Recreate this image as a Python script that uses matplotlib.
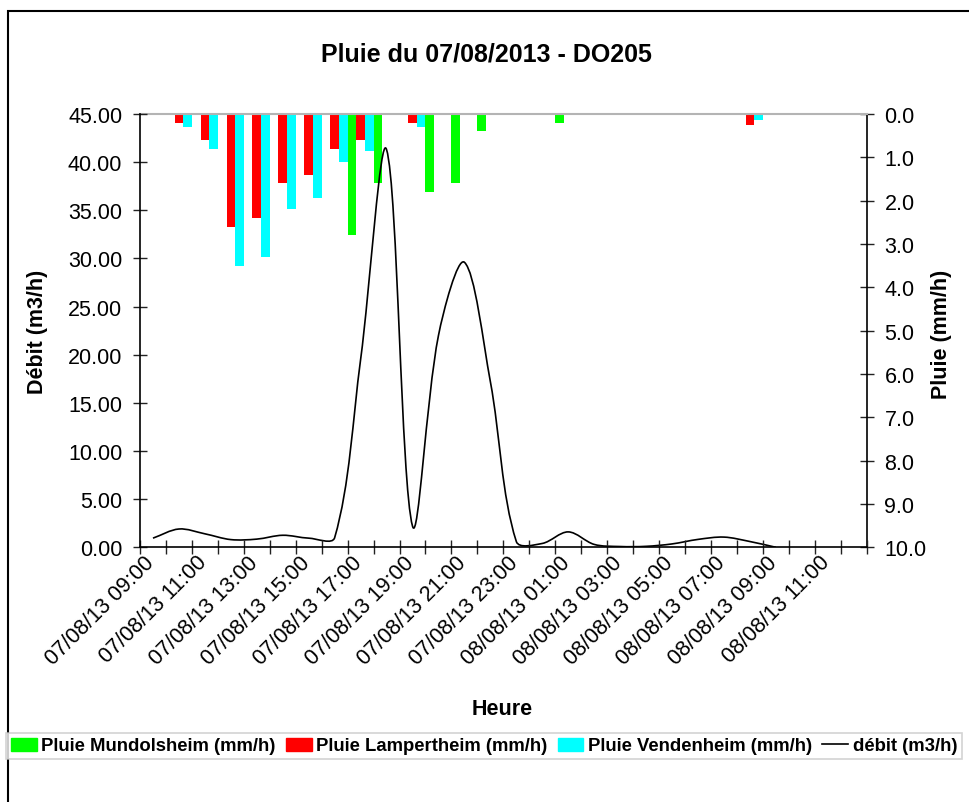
import numpy as np
import matplotlib
matplotlib.use("Agg")
import matplotlib.pyplot as plt
from matplotlib.path import Path
from matplotlib.patches import PathPatch, Rectangle, Patch
from matplotlib.lines import Line2D
from matplotlib.ticker import FormatStrFormatter

plt.rcParams['font.family'] = ['Liberation Sans', 'DejaVu Sans']

# hourly categories, 07/08/13 09:00 -> 08/08/13 12:00
hours = ["07/08/13 %02d:00" % h for h in range(9, 24)] + ["08/08/13 %02d:00" % h for h in range(0, 13)]

# rain (mm/h), one value per hour
pluie_mundolsheim = [0, 0, 0, 0, 0, 0, 0, 0, 2.8, 1.6, 0, 1.8, 1.6, 0.4, 0, 0, 0.2, 0, 0, 0, 0, 0, 0, 0, 0, 0, 0, 0]
pluie_lampertheim = [0, 0.2, 0.6, 2.6, 2.4, 1.6, 1.4, 0.8, 0.6, 0, 0.2, 0, 0, 0, 0, 0, 0, 0, 0, 0, 0, 0, 0, 0.25, 0, 0, 0, 0]
pluie_vendenheim = [0, 0.3, 0.8, 3.5, 3.3, 2.2, 1.95, 1.1, 0.85, 0, 0.3, 0, 0, 0, 0, 0, 0, 0, 0, 0, 0, 0, 0, 0.15, 0, 0, 0, 0]

# flow (m3/h), 09:00 -> 09:00 next day
debit = [0.95, 1.9, 1.4, 0.8, 0.85, 1.25, 0.95, 1.0, 19.5, 41.3, 2.2, 22.0, 29.6, 17.2, 0.6,
         0.4, 1.6, 0.3, 0.08, 0.1, 0.35, 0.82, 1.06, 0.6, 0.0]

W, H = 969, 803
fig = plt.figure(figsize=(W / 100, H / 100), dpi=100, facecolor="white")

x0, x1, y0, y1 = 140, 866.7, 115, 548.3
ax = fig.add_axes([x0 / W, 1 - y1 / H, (x1 - x0) / W, (y1 - y0) / H])
ax2 = ax.twinx()
ax.set_zorder(ax2.get_zorder() + 1)
ax.patch.set_visible(False)

n = len(hours)
idx = np.arange(n)
bw = 1 / 3
ax2.bar(idx - bw, pluie_mundolsheim, width=bw, color="#00ff00", label="Pluie Mundolsheim (mm/h)")
ax2.bar(idx, pluie_lampertheim, width=bw, color="#ff0000", label="Pluie Lampertheim (mm/h)")
ax2.bar(idx + bw, pluie_vendenheim, width=bw, color="#00ffff", label="Pluie Vendenheim (mm/h)")

ax.set_xlim(-0.5, n - 0.5)
ax.set_ylim(0, 45)
ax2.set_ylim(10, 0)

# smoothed line (bezier through points, computed in pixel space)
pts = ax.transData.transform(np.column_stack([np.arange(len(debit)), debit]))
verts = [pts[0]]
codes = [Path.MOVETO]
for i in range(len(pts) - 1):
    p0 = pts[i - 1] if i > 0 else pts[i]
    p1, p2 = pts[i], pts[i + 1]
    p3 = pts[i + 2] if i + 2 < len(pts) else pts[i + 1]
    d01 = np.hypot(*(p1 - p0))
    d12 = np.hypot(*(p2 - p1))
    d23 = np.hypot(*(p3 - p2))
    c1 = p1 + (p2 - p0) / 3 * d12 / (d01 + d12)
    c2 = p2 - (p3 - p1) / 3 * d12 / (d12 + d23)
    verts += [c1, c2, p2]
    codes += [Path.CURVE4] * 3
verts = ax.transData.inverted().transform(np.array(verts))
ax.add_patch(PathPatch(Path(verts, codes), fill=False, edgecolor="black", lw=1.2))

# axes styling
ax.set_yticks(np.arange(0, 46, 5))
ax.yaxis.set_major_formatter(FormatStrFormatter("%.2f"))
ax2.set_yticks(np.arange(0, 11, 1))
ax2.yaxis.set_major_formatter(FormatStrFormatter("%.1f"))

# labels every 2 hours, nudged a little left like the original; tick marks between categories
ax.set_xticks(idx[::2] - 0.35)
ax.set_xticklabels(hours[::2], rotation=45, ha="right", va="top", rotation_mode="anchor")
ax.set_xticks(np.arange(-0.5, n, 1), minor=True)
ax.tick_params(axis="x", which="major", length=0, pad=3, labelsize=15.5)
ax.tick_params(axis="x", which="minor", direction="inout", length=9.5, width=1, color="#222222")
ax.tick_params(axis="y", direction="inout", length=9.5, width=1, color="#222222", pad=8, labelsize=15.5)
ax2.tick_params(axis="y", direction="inout", length=9.5, width=1, color="#222222", pad=8, labelsize=15.5)

for s in ["top", "right"]:
    ax.spines[s].set_visible(False)
for s in ["left", "bottom"]:
    ax2.spines[s].set_visible(False)
ax2.spines["top"].set_color("#b4b4b4")
ax2.spines["top"].set_linewidth(1.5)
for s in ["left", "bottom"]:
    ax.spines[s].set_linewidth(1.2)
ax2.spines["right"].set_linewidth(1.2)

fig.text(486 / W, 1 - 55 / H, "Pluie du 07/08/2013 - DO205", ha="center", va="center",
         fontsize=18, fontweight="bold")
fig.text(38 / W, 1 - 332 / H, "Débit (m3/h)", rotation=90, ha="center", va="center",
         fontsize=15.5, fontweight="bold")
fig.text(941 / W, 1 - 334 / H, "Pluie (mm/h)", rotation=90, ha="center", va="center",
         fontsize=15.5, fontweight="bold")
fig.text(502 / W, 1 - 710 / H, "Heure", ha="center", va="center", fontsize=15.5, fontweight="bold")

handles = [Patch(color="#00ff00"), Patch(color="#ff0000"), Patch(color="#00ffff"),
           Line2D([], [], color="black", lw=1.2)]
labels = ["Pluie Mundolsheim (mm/h)", "Pluie Lampertheim (mm/h)", "Pluie Vendenheim (mm/h)", "débit (m3/h)"]
leg = fig.legend(handles, labels, loc="center", bbox_to_anchor=(484 / W, 1 - 747 / H), ncol=4,
                 prop={"weight": "bold", "size": 13.3}, handlelength=1.4, handleheight=0.7,
                 handletextpad=0.25, columnspacing=0.55, borderpad=0.25, borderaxespad=0,
                 fancybox=False, frameon=True, edgecolor="#c8c8c8")
leg.get_frame().set_linewidth(1.2)

fig.patches.append(Rectangle((8 / W, -0.05), 1.0, 1.05 - 12 / H, transform=fig.transFigure,
                             fill=False, edgecolor="black", lw=1.5, clip_on=False))

fig.savefig("out.png", dpi=100, facecolor="white")
